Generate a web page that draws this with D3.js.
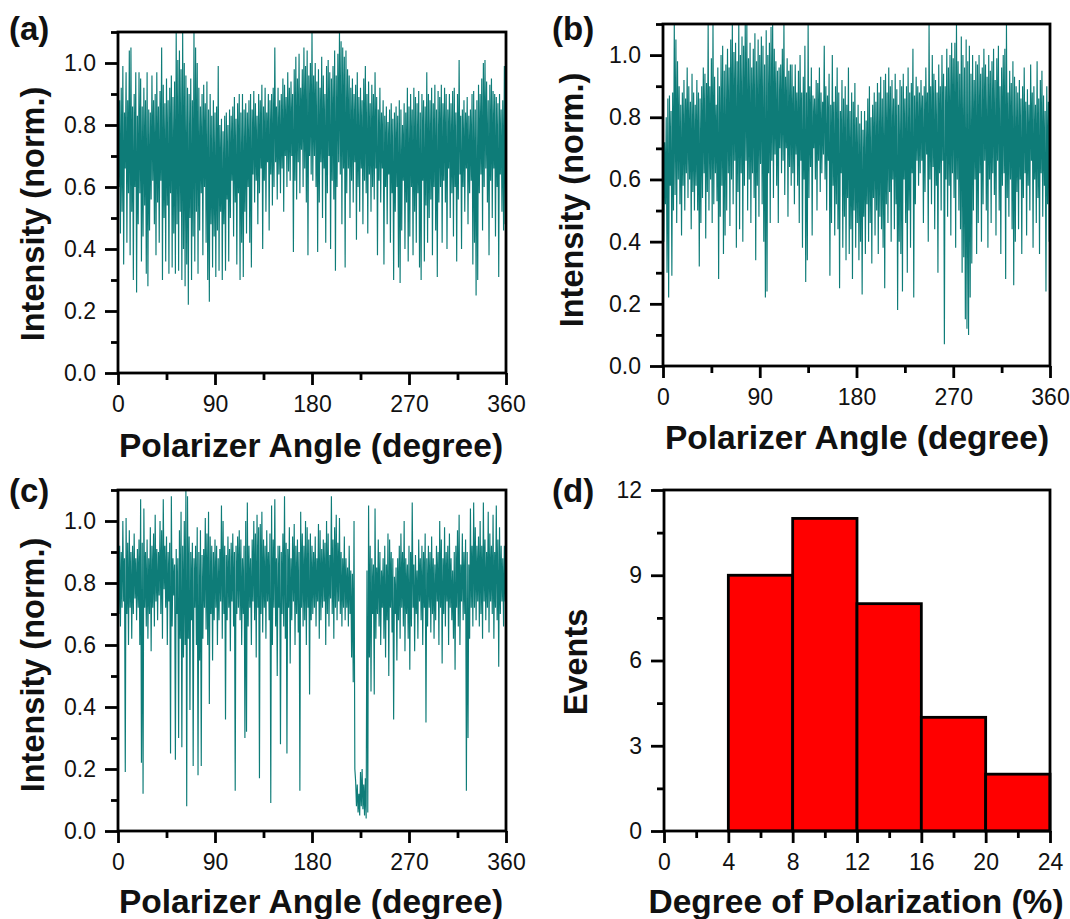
<!DOCTYPE html>
<html><head><meta charset="utf-8">
<script src="https://cdnjs.cloudflare.com/ajax/libs/d3/7.8.5/d3.min.js"></script>
<style>html,body{margin:0;padding:0;background:#fff}svg{display:block}text{font-family:"Liberation Sans",Arial,sans-serif;fill:#111}</style>
</head><body><svg id="c" width="1070" height="919"></svg>
<script>
// Intensity traces in hundredths of normalised intensity; one peak and one trough per 1.5 degree step.
const peaksA=[103,88,92,99,84,97,88,104,105,86,90,97,83,97,95,86,92,88,97,85,
84,96,88,90,97,86,91,105,93,87,95,88,92,96,89,94,110,101,104,98,
110,100,96,92,90,95,88,110,105,100,92,86,90,93,87,94,85,90,83,88,
84,86,99,80,82,78,83,84,80,85,83,86,89,82,87,90,84,90,85,87,
84,88,90,85,91,87,83,90,88,93,86,92,84,90,88,90,92,105,86,92,
88,90,95,93,89,97,92,94,90,98,102,95,103,92,98,105,99,104,96,100,
110,96,100,94,98,92,102,96,90,99,101,97,95,99,104,96,103,110,107,105,
102,104,98,96,92,95,90,93,97,89,92,88,95,99,90,94,87,93,90,97,
89,85,92,84,88,83,86,81,85,87,82,84,86,83,88,85,80,87,84,92,
86,90,85,92,89,87,91,84,90,88,86,97,90,88,92,87,93,85,91,89,
93,87,92,90,85,90,87,91,92,84,90,101,83,85,88,84,89,83,85,90,
91,85,88,93,90,95,100,101,94,88,93,95,91,90,89,87,90,85,88,99];
const troughsA=[60,45,52,35,66,42,58,38,52,30,60,26,48,58,36,44,54,32,28,46,
56,62,48,38,55,42,62,30,50,36,54,32,58,34,45,32,48,33,52,30,
40,28,35,22,50,30,44,36,52,32,46,58,38,60,42,30,23,48,34,44,
31,46,33,52,30,48,33,56,36,50,62,44,55,35,58,30,42,31,52,45,
60,42,34,64,55,62,48,58,66,40,62,52,68,46,64,54,60,68,56,64,
58,66,52,70,60,65,62,70,39,62,56,68,58,72,60,66,55,38,70,64,
62,70,60,39,55,68,50,66,42,58,70,40,62,56,33,60,68,64,48,66,
34,58,66,50,62,55,68,43,60,52,66,48,62,58,45,64,52,60,56,66,
38,62,55,66,35,60,48,64,42,58,30,52,60,34,29,46,62,40,55,36,
44,60,38,52,42,58,34,30,62,36,54,42,50,56,38,60,46,31,55,60,
42,62,55,40,66,50,58,44,60,36,56,64,40,60,52,66,48,58,62,35,
42,25,30,58,64,46,60,66,55,38,62,50,66,44,60,31,64,52,46,48];
const peaksB=[78,72,80,86,87,82,88,110,105,98,90,84,88,92,86,96,90,85,94,88,
84,92,88,86,90,96,94,91,110,90,99,110,93,84,96,90,100,103,95,97,
102,96,105,110,101,104,98,110,100,106,103,110,110,99,104,96,102,107,98,105,
100,106,103,97,108,100,104,109,110,102,98,95,96,97,102,110,93,99,95,97,
97,90,97,88,95,100,88,93,103,88,110,90,96,87,86,92,91,96,88,85,
103,90,87,94,84,100,85,90,96,88,82,92,86,90,84,96,82,88,85,91,
80,84,78,82,76,82,79,86,90,80,84,88,85,91,88,93,86,92,94,88,
96,90,92,86,94,89,84,92,90,94,86,90,96,88,91,102,87,93,90,88,
92,87,90,96,88,110,90,100,94,92,88,97,90,100,94,90,102,96,100,104,
99,104,110,98,94,106,100,96,105,98,103,94,100,92,98,97,100,94,96,102,
97,93,100,95,98,102,92,99,103,90,96,100,102,110,88,95,91,98,93,90,
88,92,86,90,96,85,89,84,97,88,90,84,98,86,92,95,87,82,90,85];
const troughsB=[40,52,30,22,58,29,50,55,46,60,52,42,58,50,62,54,60,44,56,50,
58,50,32,46,54,62,41,56,50,60,46,52,62,53,28,48,58,36,42,50,
62,45,60,52,66,38,56,44,62,40,58,66,50,60,46,62,54,34,58,48,
65,52,40,22,24,62,46,66,54,68,58,46,70,62,66,55,70,48,64,58,
62,52,68,58,46,66,38,60,27,34,54,64,42,70,60,50,66,56,62,68,
60,50,66,29,46,58,42,52,44,25,62,38,48,34,54,36,44,28,50,38,
46,34,40,23,48,36,52,40,46,33,54,42,50,36,48,44,38,25,52,46,
56,40,60,44,52,18,40,36,24,60,46,30,50,38,62,22,52,66,58,62,
66,46,56,68,40,60,52,64,44,58,30,62,50,66,7,60,48,58,42,62,
54,38,60,50,44,30,35,15,12,10,22,33,50,60,36,46,62,40,52,66,
50,38,60,46,62,55,42,66,50,36,58,62,28,54,48,60,44,26,40,56,
44,60,36,54,62,42,58,50,66,38,60,46,54,36,62,48,58,24,52,40];
const peaksC=[95,92,90,100,88,101,93,97,90,92,96,88,91,94,107,93,104,90,94,88,
98,92,96,102,91,90,100,97,107,92,95,90,93,108,88,86,91,88,97,103,
92,100,110,108,95,90,93,88,92,98,90,97,89,91,101,96,103,95,92,90,
94,92,88,91,105,100,92,89,95,91,93,96,90,92,95,97,94,88,92,100,
106,92,88,94,100,96,102,98,99,103,94,92,97,90,96,105,94,107,88,92,
92,90,96,108,93,91,98,88,95,99,92,94,90,103,96,92,100,98,94,96,
92,90,95,88,99,97,91,94,93,100,96,89,108,94,98,102,93,101,90,88,
95,88,85,92,84,83,100,16,15,12,19,20,15,17,84,105,92,88,86,104,
85,94,90,84,88,92,86,96,94,90,88,82,85,88,92,96,90,100,88,86,
92,90,106,86,89,84,94,88,92,90,96,88,92,90,95,88,86,92,90,100,
94,88,98,90,92,96,88,84,90,92,97,102,86,96,90,94,90,86,104,92,
106,98,92,95,100,92,106,94,90,103,96,92,102,90,105,94,98,92,88,92];
const troughsC=[70,66,72,74,19,70,60,72,62,70,75,68,72,60,22,12,72,66,62,70,
58,72,66,74,68,76,70,62,78,72,60,74,25,66,76,23,70,30,62,27,
56,60,8,62,39,68,21,72,60,18,55,21,62,72,65,60,41,70,55,68,
72,60,68,74,62,70,36,68,72,58,74,66,13,70,72,68,60,70,30,32,
66,72,60,74,68,56,72,17,70,64,72,62,74,68,9,60,72,66,50,72,
28,70,66,62,25,72,54,68,74,60,70,64,13,72,66,68,60,72,44,68,
70,72,66,74,62,68,72,74,60,70,66,75,70,62,72,68,74,70,66,72,
68,72,66,70,56,48,20,8,6,5,8,7,5,4,6,56,45,70,44,62,
70,66,60,72,62,56,68,50,72,64,36,70,55,68,62,72,66,58,70,62,
52,66,72,58,70,62,74,68,60,72,35,66,72,64,70,62,68,74,60,72,
54,70,66,74,60,72,68,62,52,72,66,60,74,68,70,13,30,62,72,66,
72,68,74,66,70,62,74,68,72,64,74,70,62,72,68,53,70,74,66,74];
const angleStep=1.5;
const angleTicks=[0,90,180,270,360];
const angleMinor=[45,135,225,315];
const intensityTicks=[0,0.2,0.4,0.6,0.8,1.0];
const intensityMinor=[0.1,0.3,0.5,0.7,0.9,1.1];
const binEdges=[4,8,12,16,20,24];
const binCounts=[9,11,8,4,2];
const dopTicks=[0,4,8,12,16,20,24];
const dopMinor=[2,6,10,14,18,22];
const eventTicks=[0,3,6,9,12];
const eventMinor=[1.5,4.5,7.5,10.5];
const xTitleAngle="Polarizer Angle (degree)";
const yTitleIntensity="Intensity (norm.)";

const svg=d3.select("#c");
const TEAL="#0e7c78";

function axes(g,x,y,W,H,xT,xM,yT,yM,xFmt,yFmt){
  const bx=g.append("g").attr("transform",`translate(0,${H})`)
    .call(d3.axisBottom(x).tickValues(xT).tickSize(12).tickPadding(11).tickFormat(xFmt));
  const bxm=g.append("g").attr("transform",`translate(0,${H})`)
    .call(d3.axisBottom(x).tickValues(xM).tickSize(7).tickFormat(""));
  const ly=g.append("g").call(d3.axisLeft(y).tickValues(yT).tickSize(13).tickPadding(9).tickFormat(yFmt));
  const lym=g.append("g").call(d3.axisLeft(y).tickValues(yM).tickSize(7).tickFormat(""));
  [bx,bxm,ly,lym].forEach(a=>{a.select(".domain").remove();
    a.selectAll("line").attr("stroke","#000").attr("stroke-width",2.8);
    a.selectAll("text").attr("font-size",23).attr("fill","#1a1a1a");});
  g.append("rect").attr("width",W).attr("height",H).attr("fill","none").attr("stroke","#000").attr("stroke-width",2.8);
}
function titles(g,label,lx,ly,xt,xtCx,xtY,yt,ytX,ytCy){
  svg.append("text").text(label).attr("x",lx).attr("y",ly).attr("font-size",33).attr("font-weight","bold");
  svg.append("text").text(xt).attr("x",xtCx).attr("y",xtY).attr("text-anchor","middle").attr("font-size",33.5).attr("font-weight","bold");
  svg.append("text").text(yt).attr("transform",`translate(${ytX},${ytCy}) rotate(-90)`).attr("text-anchor","middle").attr("font-size",32.5).attr("font-weight","bold");
}
let clipN=0;
function trace(left,top,W,H,peaks,troughs,label,lx,ly,xtCx,xtY,ytX,ytCy){
  const g=svg.append("g").attr("transform",`translate(${left},${top})`);
  const x=d3.scaleLinear().domain([0,360]).range([0,W]);
  const y=d3.scaleLinear().domain([0,1.1]).range([H,0]);
  const id="clip"+(++clipN);
  g.append("clipPath").attr("id",id).append("rect").attr("width",W).attr("height",H);
  const pts=[];
  peaks.forEach((p,i)=>{
    pts.push([i*angleStep,p/100]);
    pts.push([(i+0.5)*angleStep,troughs[i]/100]);
  });
  g.append("path").attr("clip-path",`url(#${id})`)
    .attr("d",d3.line().x(d=>x(d[0])).y(d=>y(d[1]))(pts))
    .attr("fill","none").attr("stroke",TEAL).attr("stroke-width",1.15).attr("stroke-linejoin","bevel");
  axes(g,x,y,W,H,angleTicks,angleMinor,intensityTicks,intensityMinor,d3.format("d"),d3.format(".1f"));
  titles(g,label,lx,ly,xTitleAngle,xtCx,xtY,yTitleIntensity,ytX,ytCy);
}
trace(118,32,388,341,peaksA,troughsA,"(a)",9,40,311,457,44,214);
trace(663,24,387,342,peaksB,troughsB,"(b)",552,40,857,449,583,200);
trace(118,490,388,341,peaksC,troughsC,"(c)",9,502,311,913,44,665);

(function(){
  const W=386,H=341;
  const g=svg.append("g").attr("transform",`translate(664,490)`);
  const x=d3.scaleLinear().domain([0,24]).range([0,W]);
  const y=d3.scaleLinear().domain([0,12]).range([H,0]);
  g.selectAll("rect.bar").data(binCounts).join("rect").attr("class","bar")
    .attr("x",(d,i)=>x(binEdges[i])).attr("width",(d,i)=>x(binEdges[i+1])-x(binEdges[i]))
    .attr("y",d=>y(d)).attr("height",d=>H-y(d))
    .attr("fill","#ff0000").attr("stroke","#000").attr("stroke-width",2.8);
  axes(g,x,y,W,H,dopTicks,dopMinor,eventTicks,eventMinor,d3.format("d"),d3.format("d"));
  titles(g,"(d)",552,502,"Degree of Polarization (%)",856,913,"Events",587,662);
})();
</script></body></html>
